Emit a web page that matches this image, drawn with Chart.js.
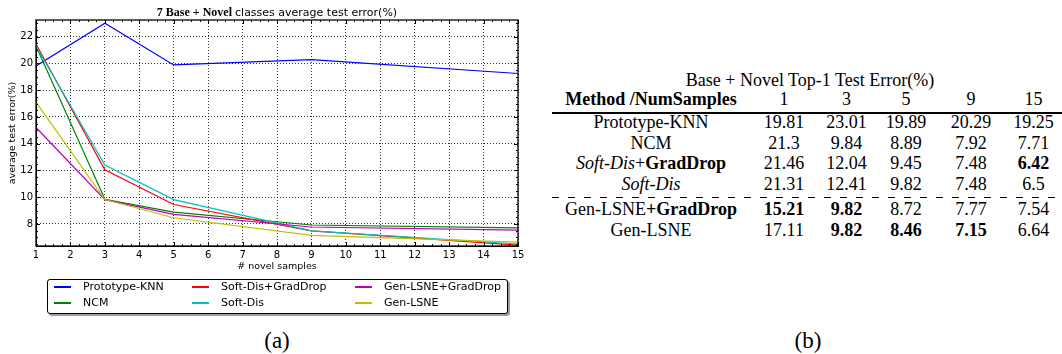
<!DOCTYPE html>
<html lang="en">
<head>
<meta charset="UTF-8">
<title>Base + Novel test error</title>
<script src="https://cdn.jsdelivr.net/npm/chart.js"></script>
<style>
  body { margin: 0; background: #fff; width: 1062px; height: 354px; position: relative; overflow: hidden; font-family: 'DejaVu Sans', sans-serif; }
  #plotBox { position: absolute; left: 0; top: 0; width: 530px; height: 320px; }
  .legend { position: absolute; left: 47px; top: 279px; width: 459px; height: 33px; border: 1px solid #000; border-radius: 3px; box-shadow: 2px 2px 1px #999; background: #fff; }
  .leg-line { position: absolute; width: 17px; height: 1.5px; }
  .leg-text { position: absolute; font-size: 11px; line-height: 13px; color: #000; white-space: nowrap; }
  .cell { position: absolute; font-family: 'Liberation Serif', serif; font-size: 18px; line-height: 20px; white-space: nowrap; text-align: center; color: #000; }
  .rule { position: absolute; left: 552px; width: 510px; }
  .caption { position: absolute; font-family: 'Liberation Serif', serif; font-size: 23px; line-height: 26px; width: 60px; text-align: center; }
</style>
</head>
<body>
<div id="plotBox"><canvas id="plot" width="530" height="320"></canvas></div>
<div class="legend"></div>
<div id="legendItems"></div>
<div id="table"></div>
<div class="caption" style="left:247px; top:328px;">(a)</div>
<div class="caption" style="left:778px; top:328px;">(b)</div>

<script>
// number of novel samples per class
const sampleCounts = [1, 3, 5, 9, 15];
const methods = ['Prototype-KNN', 'NCM', 'Soft-Dis+GradDrop', 'Soft-Dis', 'Gen-LSNE+GradDrop', 'Gen-LSNE'];
// table labels (with the italic / bold parts)
const methodLabels = ['Prototype-KNN', 'NCM', '<i>Soft-Dis</i>+<b>GradDrop</b>', '<i>Soft-Dis</i>', 'Gen-LSNE<b>+GradDrop</b>', 'Gen-LSNE'];

const protoKnn  = [19.81, 23.01, 19.89, 20.29, 19.25];
const ncm       = [21.3, 9.84, 8.89, 7.92, 7.71];
const softDisGD = [21.46, 12.04, 9.45, 7.48, 6.42];
const softDis   = [21.31, 12.41, 9.82, 7.48, 6.5];
const genLsneGD = [15.21, 9.82, 8.72, 7.77, 7.54];
const genLsne   = [17.11, 9.82, 8.46, 7.15, 6.64];
const allSeries = [protoKnn, ncm, softDisGD, softDis, genLsneGD, genLsne];

// bold cells in the table (column index per row)
const boldCells = [[], [], [4], [], [0, 1], [1, 2, 3]];

const xTicks = [1, 2, 3, 4, 5, 6, 7, 8, 9, 10, 11, 12, 13, 14, 15];
const yTicks = [8, 10, 12, 14, 16, 18, 20, 22];

const lineColors = ['#0000ff', '#008000', '#ff0000', '#00bfbf', '#bf00bf', '#bfbf00'];

// frame + inward ticks on all four sides, like the old matplotlib style
const framePlugin = {
    id: 'frame',
    afterDatasetsDraw(chart) {
        const {ctx, chartArea: a, scales: {x, y}} = chart;
        ctx.save();
        ctx.strokeStyle = '#000';
        ctx.lineWidth = 1;
        ctx.beginPath();
        for (let v = 1; v <= 15.001; v += 0.25) {
            const px = Math.round(x.getPixelForValue(v)) + 0.5;
            const len = Number.isInteger(v) ? 4 : 2;
            ctx.moveTo(px, a.bottom); ctx.lineTo(px, a.bottom - len);
            ctx.moveTo(px, a.top); ctx.lineTo(px, a.top + len);
        }
        for (let v = 6.5; v <= 23.001; v += 0.5) {
            const py = Math.round(y.getPixelForValue(v)) + 0.5;
            const len = yTicks.includes(v) ? 4 : 2;
            ctx.moveTo(a.left, py); ctx.lineTo(a.left + len, py);
            ctx.moveTo(a.right, py); ctx.lineTo(a.right - len, py);
        }
        ctx.stroke();
        ctx.lineWidth = 1.3;
        ctx.strokeRect(a.left, a.top, a.right - a.left, a.bottom - a.top);
        ctx.restore();
    },
    afterDraw(chart) {
        const {ctx, chartArea: a} = chart;
        const part1 = '7 Base + Novel ';
        const part2 = 'classes average test error(%)';
        ctx.save();
        ctx.fillStyle = '#000';
        ctx.textBaseline = 'alphabetic';
        ctx.font = 'bold 12px "Liberation Serif"';
        const w1 = ctx.measureText(part1).width;
        ctx.font = '11px "DejaVu Sans"';
        const w2 = ctx.measureText(part2).width;
        const start = (a.left + a.right) / 2 - (w1 + w2) / 2;
        ctx.font = 'bold 12px "Liberation Serif"';
        ctx.fillText(part1, start, 16);
        ctx.font = '11px "DejaVu Sans"';
        ctx.fillText(part2, start + w1, 16);
        ctx.restore();
    }
};

const datasets = methods.map((name, i) => ({
    label: name,
    data: sampleCounts.map((n, j) => ({x: n, y: allSeries[i][j]})),
    borderColor: lineColors[i],
    backgroundColor: lineColors[i],
    borderWidth: 1.2,
    pointRadius: 0,
    tension: 0,
    order: methods.length - i
}));

new Chart(document.getElementById('plot'), {
    type: 'line',
    data: {datasets},
    options: {
        responsive: false,
        animation: false,
        devicePixelRatio: 1,
        layout: {padding: {left: 0, right: 12, top: 20, bottom: 48}},
        plugins: {legend: {display: false}, tooltip: {enabled: false}},
        scales: {
            x: {
                type: 'linear',
                min: 1, max: 15,
                afterBuildTicks: s => { s.ticks = xTicks.map(v => ({value: v})); },
                afterFit: s => { s.height = 26; },
                ticks: {color: '#000', font: {family: 'DejaVu Sans', size: 10}, padding: 3, maxRotation: 0},
                grid: {color: '#000', lineWidth: 0.8, drawTicks: false},
                border: {display: true, color: '#000', dash: [1, 2]},
                title: {display: true, text: '# novel samples', color: '#000', font: {family: 'DejaVu Sans', size: 9.5}, padding: 0}
            },
            y: {
                min: 6.35, max: 23.25,
                afterBuildTicks: s => { s.ticks = yTicks.map(v => ({value: v})); },
                afterFit: s => { s.width = 36; },
                ticks: {color: '#000', font: {family: 'DejaVu Sans', size: 10}, padding: 3},
                grid: {color: '#000', lineWidth: 0.8, drawTicks: false},
                border: {display: true, color: '#000', dash: [1, 2]},
                title: {display: true, text: 'average test error(%)', color: '#000', font: {family: 'DejaVu Sans', size: 9.5}, padding: {top: 7, bottom: 0}}
            }
        }
    },
    plugins: [framePlugin]
});

// legend, three columns filled top-down like matplotlib
const legCols = [54, 192, 355];
const legRows = [287, 303];
const legendBox = document.getElementById('legendItems');
methods.forEach((name, i) => {
    const col = Math.floor(i / 2), row = i % 2;
    const line = document.createElement('div');
    line.className = 'leg-line';
    line.style.left = legCols[col] + 'px';
    line.style.top = (legRows[row] - 0.75) + 'px';
    line.style.background = lineColors[i];
    legendBox.appendChild(line);
    const txt = document.createElement('div');
    txt.className = 'leg-text';
    txt.style.left = (legCols[col] + 29) + 'px';
    txt.style.top = (legRows[row] - 7) + 'px';
    txt.textContent = name;
    legendBox.appendChild(txt);
});

// table (b)
const table = document.getElementById('table');
const colLeft = [552, 750, 818, 875, 937, 1005];
const colWidth = [198, 68, 57, 62, 68, 57];
const rowBase = [128, 148.5, 169, 189.5, 215, 235.5];
function addCell(html, left, width, baseline, extra) {
    const d = document.createElement('div');
    d.className = 'cell';
    d.style.left = left + 'px';
    d.style.width = width + 'px';
    d.style.top = (baseline - 16) + 'px';
    d.innerHTML = html;
    if (extra) Object.assign(d.style, extra);
    table.appendChild(d);
}
addCell('Base + Novel Top-1 Test Error(%)', 552, 516, 86);
addCell('<b>Method /NumSamples</b>', colLeft[0], colWidth[0], 105);
sampleCounts.forEach((n, j) => addCell(String(n), colLeft[j + 1], colWidth[j + 1], 105));
methodLabels.forEach((label, i) => {
    addCell(label, colLeft[0], colWidth[0], rowBase[i]);
    allSeries[i].forEach((v, j) => {
        const txt = boldCells[i].includes(j) ? '<b>' + v + '</b>' : String(v);
        addCell(txt, colLeft[j + 1], colWidth[j + 1], rowBase[i]);
    });
});
const topRule = document.createElement('div');
topRule.className = 'rule';
topRule.style.top = '112px';
topRule.style.height = '1.5px';
topRule.style.background = '#000';
table.appendChild(topRule);
const dashRule = document.createElement('div');
dashRule.className = 'rule';
dashRule.style.top = '197px';
dashRule.style.height = '1px';
dashRule.style.background = 'repeating-linear-gradient(to right, #000 0 7px, transparent 7px 16px)';
table.appendChild(dashRule);
</script>
</body>
</html>
